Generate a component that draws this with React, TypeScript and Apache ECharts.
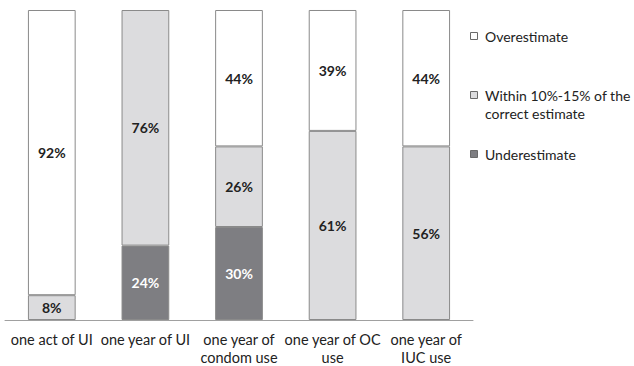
import React, { useEffect, useRef } from "react";
import * as echarts from "echarts";

const categories = [
  "one act of UI",
  "one year of UI",
  "one year of\ncondom use",
  "one year of OC\nuse",
  "one year of\nIUC use",
];
const underestimate = [0, 24, 30, 0, 0];
const within = [8, 76, 26, 61, 56];
const overestimate = [92, 0, 44, 39, 44];
const seriesNames = ["Overestimate", "Within 10%-15% of the\ncorrect estimate", "Underestimate"];

const FONT = "Lato, 'Open Sans', sans-serif";
const colors = { over: "#ffffff", within: "#dcdcde", under: "#7e7e82" };

export default function App() {
  const ref = useRef<HTMLDivElement>(null);
  useEffect(() => {
    if (!ref.current) return;
    const chart = echarts.init(ref.current, null, { renderer: "svg" });
    const toData = (arr: number[]) => arr.map((v) => (v === 0 ? "-" : v));
    const mk = (name: string, data: number[], color: string, labelColor: string) => ({
      name,
      type: "bar",
      stack: "total",
      barWidth: "51%",
      data: toData(data),
      itemStyle: { color, borderColor: "#8a8a8a", borderWidth: 1 },
      label: {
        show: true,
        position: "inside",
        formatter: (p: any) => `${p.value}%`,
        color: labelColor,
        fontFamily: FONT,
        fontWeight: "bold",
        fontSize: 14,
      },
    });
    const legendItems = [
      { name: seriesNames[0], color: colors.over, y: 36 },
      { name: seriesNames[1], color: colors.within, y: 95 },
      { name: seriesNames[2], color: colors.under, y: 154 },
    ];
    const graphic: any[] = [];
    legendItems.forEach((it) => {
      graphic.push({
        type: "rect",
        left: 470,
        top: it.y - 4,
        shape: { width: 7, height: 7 },
        style: { fill: it.color, stroke: "#6a6a6a", lineWidth: 1 },
      });
      graphic.push({
        type: "text",
        left: 485,
        top: it.y - 9,
        style: {
          text: it.name,
          fill: "#222",
          font: `14px ${FONT}`,
          lineHeight: 18,
        },
      });
    });
    chart.setOption({
      animation: false,
      grid: { left: 5, right: 161, top: 10, bottom: 43, containLabel: false },
      xAxis: {
        type: "category",
        data: categories,
        axisLine: { lineStyle: { color: "#a0a0a0", width: 1 } },
        axisTick: { show: false },
        axisLabel: {
          color: "#222",
          fontFamily: FONT,
          fontSize: 14.5,
          lineHeight: 18,
          margin: 10,
          interval: 0,
        },
      },
      yAxis: {
        type: "value",
        min: 0,
        max: 100,
        show: false,
        splitLine: { show: false },
      },
      graphic,
      series: [
        mk("Underestimate", underestimate, colors.under, "#ffffff"),
        mk("Within", within, colors.within, "#222"),
        mk("Overestimate", overestimate, colors.over, "#222"),
      ],
    });
    return () => chart.dispose();
  }, []);
  return (
    <div
      ref={ref}
      style={{ position: "absolute", left: 0, top: 0, width: 634, height: 366 }}
    />
  );
}
